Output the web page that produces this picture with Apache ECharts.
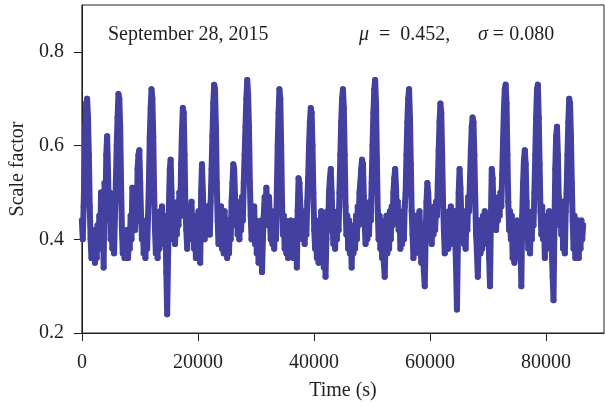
<!DOCTYPE html>
<html>
<head>
<meta charset="utf-8">
<script src="https://cdn.jsdelivr.net/npm/echarts@6/dist/echarts.min.js"></script>
<style>
  html, body { margin: 0; padding: 0; background: #fff; }
  #main { width: 605px; height: 406px; }
</style>
</head>
<body>
<div id="main"></div>
<script>
// one sample every 150 s (one row = 3000 s)
var timeStep = 150;
var scale = [
    0.44, 0.40, 0.47, 0.55, 0.64, 0.69, 0.70, 0.66, 0.58, 0.47, 0.40, 0.36, 0.41, 0.37, 0.42, 0.35, 0.40, 0.36, 0.43, 0.38,
    0.45, 0.39, 0.50, 0.42, 0.47, 0.34, 0.52, 0.44, 0.58, 0.62, 0.55, 0.45, 0.50, 0.40, 0.46, 0.38, 0.44, 0.37, 0.45, 0.52,
    0.60, 0.66, 0.71, 0.70, 0.64, 0.52, 0.42, 0.37, 0.41, 0.36, 0.40, 0.37, 0.42, 0.36, 0.41, 0.38, 0.45, 0.40, 0.51, 0.44,
    0.48, 0.42, 0.50, 0.44, 0.55, 0.58, 0.59, 0.52, 0.45, 0.40, 0.44, 0.37, 0.42, 0.36, 0.43, 0.38, 0.45, 0.52, 0.62, 0.68,
    0.72, 0.70, 0.62, 0.50, 0.42, 0.37, 0.43, 0.36, 0.45, 0.38, 0.46, 0.40, 0.47, 0.41, 0.45, 0.39, 0.44, 0.33, 0.24, 0.36,
    0.47, 0.55, 0.57, 0.50, 0.44, 0.40, 0.46, 0.39, 0.45, 0.41, 0.48, 0.43, 0.50, 0.45, 0.56, 0.63, 0.68, 0.67, 0.58, 0.46,
    0.42, 0.38, 0.44, 0.40, 0.47, 0.42, 0.48, 0.40, 0.45, 0.38, 0.44, 0.36, 0.42, 0.38, 0.46, 0.40, 0.35, 0.50, 0.56, 0.50,
    0.44, 0.40, 0.46, 0.41, 0.47, 0.42, 0.46, 0.41, 0.48, 0.55, 0.62, 0.69, 0.73, 0.72, 0.64, 0.52, 0.44, 0.39, 0.45, 0.40,
    0.47, 0.38, 0.44, 0.37, 0.46, 0.38, 0.43, 0.36, 0.44, 0.37, 0.42, 0.40, 0.48, 0.52, 0.56, 0.55, 0.49, 0.43, 0.47, 0.41,
    0.46, 0.40, 0.48, 0.42, 0.49, 0.44, 0.52, 0.58, 0.64, 0.70, 0.74, 0.71, 0.64, 0.52, 0.45, 0.40, 0.46, 0.41, 0.47, 0.39,
    0.44, 0.37, 0.43, 0.35, 0.42, 0.36, 0.44, 0.33, 0.40, 0.45, 0.49, 0.46, 0.51, 0.47, 0.43, 0.49, 0.45, 0.40, 0.46, 0.39,
    0.45, 0.38, 0.44, 0.40, 0.50, 0.60, 0.67, 0.72, 0.70, 0.60, 0.48, 0.41, 0.45, 0.38, 0.44, 0.37, 0.43, 0.36, 0.42, 0.38,
    0.44, 0.37, 0.43, 0.36, 0.42, 0.38, 0.44, 0.34, 0.46, 0.53, 0.52, 0.47, 0.42, 0.46, 0.40, 0.45, 0.39, 0.46, 0.41, 0.48,
    0.53, 0.60, 0.65, 0.68, 0.67, 0.60, 0.50, 0.42, 0.38, 0.44, 0.36, 0.43, 0.35, 0.44, 0.38, 0.46, 0.37, 0.44, 0.34, 0.41,
    0.32, 0.40, 0.46, 0.42, 0.50, 0.53, 0.55, 0.50, 0.44, 0.39, 0.45, 0.38, 0.44, 0.40, 0.46, 0.42, 0.50, 0.58, 0.65, 0.70,
    0.72, 0.68, 0.58, 0.47, 0.41, 0.45, 0.38, 0.44, 0.37, 0.42, 0.34, 0.41, 0.37, 0.43, 0.38, 0.45, 0.40, 0.47, 0.43, 0.50,
    0.52, 0.55, 0.57, 0.56, 0.49, 0.43, 0.39, 0.45, 0.40, 0.47, 0.41, 0.48, 0.44, 0.52, 0.60, 0.67, 0.72, 0.74, 0.69, 0.57,
    0.46, 0.40, 0.45, 0.38, 0.44, 0.36, 0.42, 0.35, 0.32, 0.40, 0.45, 0.37, 0.43, 0.38, 0.46, 0.40, 0.47, 0.43, 0.50, 0.53,
    0.55, 0.51, 0.45, 0.48, 0.42, 0.46, 0.38, 0.44, 0.39, 0.45, 0.40, 0.47, 0.50, 0.58, 0.65, 0.70, 0.72, 0.66, 0.56, 0.46,
    0.41, 0.36, 0.43, 0.37, 0.45, 0.39, 0.44, 0.38, 0.46, 0.40, 0.35, 0.43, 0.37, 0.33, 0.30, 0.40, 0.48, 0.52, 0.50, 0.45,
    0.41, 0.46, 0.39, 0.45, 0.41, 0.47, 0.42, 0.48, 0.45, 0.52, 0.59, 0.65, 0.69, 0.67, 0.58, 0.48, 0.42, 0.37, 0.43, 0.38,
    0.44, 0.38, 0.46, 0.40, 0.47, 0.41, 0.45, 0.39, 0.46, 0.40, 0.34, 0.25, 0.38, 0.50, 0.55, 0.51, 0.45, 0.40, 0.46, 0.39,
    0.45, 0.38, 0.46, 0.42, 0.49, 0.46, 0.53, 0.59, 0.64, 0.66, 0.65, 0.58, 0.49, 0.41, 0.37, 0.32, 0.40, 0.44, 0.37, 0.43,
    0.38, 0.45, 0.39, 0.46, 0.41, 0.45, 0.40, 0.44, 0.36, 0.30, 0.44, 0.55, 0.53, 0.47, 0.43, 0.48, 0.42, 0.47, 0.44, 0.49,
    0.45, 0.50, 0.47, 0.54, 0.61, 0.68, 0.72, 0.73, 0.69, 0.58, 0.48, 0.42, 0.46, 0.40, 0.45, 0.36, 0.42, 0.35, 0.43, 0.38,
    0.44, 0.37, 0.43, 0.36, 0.40, 0.30, 0.45, 0.52, 0.57, 0.59, 0.56, 0.48, 0.43, 0.38, 0.44, 0.37, 0.45, 0.40, 0.46, 0.43,
    0.50, 0.58, 0.66, 0.72, 0.73, 0.66, 0.56, 0.46, 0.41, 0.47, 0.40, 0.45, 0.36, 0.43, 0.38, 0.45, 0.39, 0.46, 0.41, 0.45,
    0.38, 0.32, 0.27, 0.42, 0.55, 0.62, 0.64, 0.58, 0.49, 0.43, 0.47, 0.41, 0.48, 0.38, 0.44, 0.37, 0.46, 0.50, 0.58, 0.65,
    0.70, 0.69, 0.62, 0.52, 0.44, 0.38, 0.45, 0.36, 0.43, 0.37, 0.44, 0.36, 0.42, 0.38, 0.44, 0.40, 0.43
];
var xTicks = [0, 20000, 40000, 60000, 80000];
var yTicks = [0.2, 0.4, 0.6, 0.8];
var dateText = 'September 28, 2015';
var muText = '0.452';
var sigmaText = '0.080';

var points = [];
for (var i = 0; i < scale.length; i++) {
    points.push([i * timeStep, scale[i]]);
}

var myChart = echarts.init(document.getElementById('main'));
var font = '"Liberation Serif", "DejaVu Serif", serif';
var ink = '#231f20';
var dot = '#4340a0';

var option = {
    animation: false,
    grid: {
        left: 81, right: 1, top: 5, bottom: 73,
        show: true, borderColor: ink, borderWidth: 1
    },
    xAxis: {
        type: 'value',
        min: 0, max: 90000, interval: 20000,
        name: 'Time (s)',
        nameLocation: 'middle',
        nameGap: 48,
        nameTextStyle: { fontFamily: font, fontSize: 20, color: ink },
        axisLine: { lineStyle: { color: ink, width: 1 } },
        axisTick: { inside: false, length: 8, customValues: xTicks, lineStyle: { color: ink } },
        axisLabel: {
            margin: 20, fontFamily: font, fontSize: 20, color: ink,
            customValues: xTicks,
            formatter: function (v) { return String(v); }
        },
        splitLine: { show: false }
    },
    yAxis: {
        type: 'value',
        min: 0.2, max: 0.9, interval: 0.2,
        name: 'Scale factor',
        nameLocation: 'middle',
        nameGap: 51,
        nameTextStyle: { fontFamily: font, fontSize: 20, color: ink },
        axisLine: { lineStyle: { color: ink, width: 1 } },
        axisTick: { inside: false, length: 8, customValues: yTicks, lineStyle: { color: ink } },
        axisLabel: {
            margin: 18, fontFamily: font, fontSize: 20, color: ink,
            customValues: yTicks,
            formatter: function (v) { return v.toFixed(1); }
        },
        splitLine: { show: false }
    },
    graphic: [
        {
            type: 'text', left: 108, top: 25,
            style: { text: dateText, font: '20px ' + font, fill: ink }
        },
        {
            type: 'text', left: 359, top: 25,
            style: {
                text: '{i|\u03bc}  =  ' + muText + ',',
                font: '20px ' + font, fill: ink,
                rich: { i: { fontStyle: 'italic', fontFamily: font, fontSize: 20, fill: ink } }
            }
        },
        {
            type: 'text', left: 478, top: 25,
            style: {
                text: '{i|\u03c3} = ' + sigmaText,
                font: '20px ' + font, fill: ink,
                rich: { i: { fontStyle: 'italic', fontFamily: font, fontSize: 20, fill: ink } }
            }
        }
    ],
    series: [
        {
            type: 'line',
            data: points,
            symbol: 'circle',
            symbolSize: 6,
            showAllSymbol: true,
            itemStyle: { color: dot },
            lineStyle: { color: dot, width: 6, cap: 'round', join: 'round' }
        }
    ]
};
myChart.setOption(option);
</script>
</body>
</html>
